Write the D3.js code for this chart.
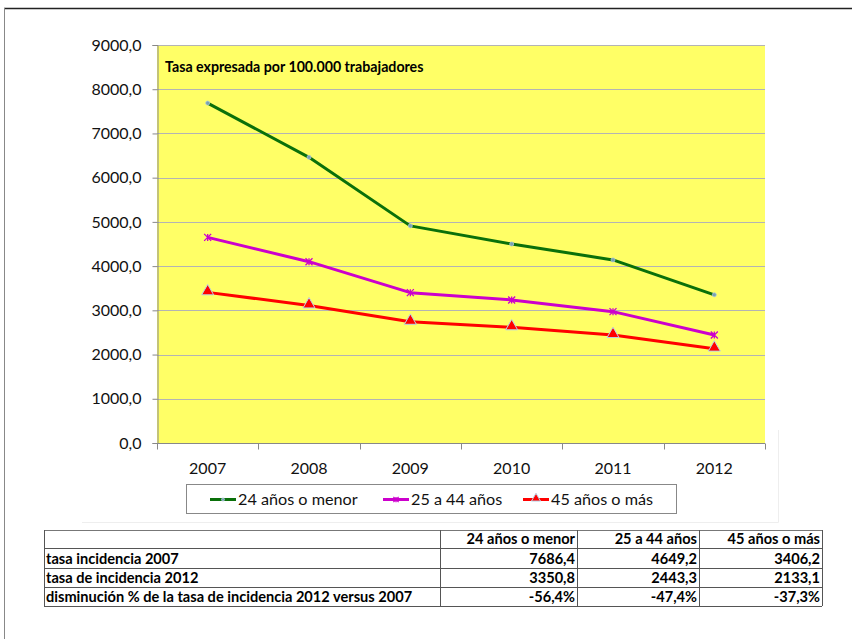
<!DOCTYPE html>
<html>
<head>
<meta charset="utf-8">
<script src="https://cdn.jsdelivr.net/npm/d3@7"></script>
<style>
  body { margin: 0; background: #fff; }
  svg { display: block; font-family: Lato, "Noto Sans", sans-serif; }
</style>
</head>
<body>
<div id="chart"></div>
<script>
// Data
const years = ["2007", "2008", "2009", "2010", "2011", "2012"];
const seriesNames = ["24 años o menor", "25 a 44 años", "45 años o más"];
const menor24 = [7686.4, 6460, 4910, 4500, 4140, 3350.8];
const entre25y44 = [4649.2, 4100, 3400, 3235, 2970, 2443.3];
const mas45 = [3406.2, 3110, 2740, 2615, 2440, 2133.1];
const yTicks = [0, 1000, 2000, 3000, 4000, 5000, 6000, 7000, 8000, 9000];

const tableCols = ["24 años o menor", "25 a 44 años", "45 años o más"];
const tableRows = ["tasa incidencia 2007", "tasa de incidencia 2012", "disminución % de la tasa de incidencia 2012 versus 2007"];
const tableVals = [
  ["7686,4", "4649,2", "3406,2"],
  ["3350,8", "2443,3", "2133,1"],
  ["-56,4%", "-47,4%", "-37,3%"]
];

const width = 852, height = 639;
const plot = { left: 157, right: 765, top: 45, bottom: 443 };

const svg = d3.select("#chart").append("svg")
    .attr("width", width)
    .attr("height", height);

// Outer frame lines
svg.append("line").attr("x1", 4).attr("x2", width).attr("y1", 8.5).attr("y2", 8.5)
    .attr("stroke", "#222").attr("stroke-width", 1.5);
svg.append("line").attr("x1", 4.5).attr("x2", 4.5).attr("y1", 8).attr("y2", height)
    .attr("stroke", "#888").attr("stroke-width", 1);

// faint chart object border
svg.append("path").attr("d", "M778.5,430V522.5H82")
    .attr("fill", "none").attr("stroke", "#eeeeee");

// Scales
const x = d3.scalePoint().domain(years).range([plot.left, plot.right]).padding(0.5);
const y = d3.scaleLinear().domain([0, 9000]).range([plot.bottom, plot.top]);
const step = x.step();

// Plot area
svg.append("rect")
    .attr("x", plot.left).attr("y", plot.top)
    .attr("width", plot.right - plot.left).attr("height", plot.bottom - plot.top)
    .attr("fill", "#ffff66");

// Gridlines
svg.append("g").selectAll("line").data(yTicks.slice(1)).join("line")
    .attr("x1", plot.left).attr("x2", plot.right)
    .attr("y1", d => Math.round(y(d)) + 0.5).attr("y2", d => Math.round(y(d)) + 0.5)
    .attr("stroke", "#b4b4b4").attr("stroke-width", 1);

// Y axis
const fmt = d => d3.format(".1f")(d).replace(".", ",");
const yAxis = svg.append("g")
    .attr("transform", `translate(${plot.left + 0.5},0)`)
    .call(d3.axisLeft(y).tickValues(yTicks).tickFormat(fmt).tickSize(5).tickPadding(11));
yAxis.select(".domain").attr("stroke", "#888");
yAxis.selectAll(".tick line").attr("stroke", "#888");
yAxis.selectAll("text").attr("font-size", 16).attr("fill", "#111")
    .attr("font-family", "Lato, sans-serif");

// X axis
const xAxisG = svg.append("g").attr("transform", `translate(0,${plot.bottom + 0.5})`);
xAxisG.append("line").attr("x1", plot.left).attr("x2", plot.right)
    .attr("stroke", "#888");
xAxisG.selectAll(".xt").data(d3.range(years.length + 1)).join("line")
    .attr("class", "xt")
    .attr("x1", i => Math.round(plot.left + i * step) + 0.5)
    .attr("x2", i => Math.round(plot.left + i * step) + 0.5)
    .attr("y1", 0).attr("y2", 6).attr("stroke", "#888");
xAxisG.selectAll("text").data(years).join("text")
    .attr("x", d => x(d)).attr("y", 30)
    .attr("text-anchor", "middle").attr("font-size", 16).attr("fill", "#111")
    .text(d => d);

// Title inside plot
svg.append("text").attr("x", 165).attr("y", 72)
    .attr("font-size", 14.2).attr("font-weight", "bold").attr("fill", "#000")
    .text("Tasa expresada por 100.000 trabajadores");

// Lines
const series = [
  { name: seriesNames[0], values: menor24, color: "#0a700a", marker: "dot" },
  { name: seriesNames[1], values: entre25y44, color: "#cc00cc", marker: "star" },
  { name: seriesNames[2], values: mas45, color: "#ff0000", marker: "triangle" }
];

const line = d3.line().x((d, i) => x(years[i])).y(d => y(d));

function drawMarker(g, type, color, cx, cy, scale) {
  const s = scale || 1;
  if (type === "dot") {
    g.append("circle").attr("cx", cx).attr("cy", cy).attr("r", 2 * s)
        .attr("fill", "#7aa0b0").attr("stroke", "#a8c8d8").attr("stroke-width", 0.8);
  } else if (type === "star") {
    const r = 3.5 * s;
    g.append("path")
        .attr("d", `M${cx - r},${cy - r}L${cx + r},${cy + r}M${cx - r},${cy + r}L${cx + r},${cy - r}M${cx},${cy - r}L${cx},${cy + r}`)
        .attr("stroke", color).attr("stroke-width", 1.3).attr("fill", "none");
  } else {
    const sym = d3.symbol().type(d3.symbolTriangle).size(62 * s * s);
    g.append("path").attr("d", sym).attr("transform", `translate(${cx},${cy - 1})`)
        .attr("fill", color).attr("stroke", "#b8d4e8").attr("stroke-width", 1);
  }
}

series.forEach(s => {
  svg.append("path").datum(s.values)
      .attr("d", line).attr("fill", "none")
      .attr("stroke", s.color).attr("stroke-width", 3)
      .attr("stroke-linejoin", "round");
});
series.forEach(s => {
  const g = svg.append("g");
  s.values.forEach((v, i) => drawMarker(g, s.marker, s.color, x(years[i]), y(v)));
});

// Legend
const legend = svg.append("g");
legend.append("rect").attr("x", 186.5).attr("y", 484.5).attr("width", 490).attr("height", 29)
    .attr("fill", "#fff").attr("stroke", "#888");
const legendX = [210, 383, 523];
series.forEach((s, i) => {
  const lx = legendX[i];
  legend.append("line").attr("x1", lx).attr("x2", lx + 26).attr("y1", 499.5).attr("y2", 499.5)
      .attr("stroke", s.color).attr("stroke-width", 3);
  drawMarker(legend, s.marker, s.color, lx + 13, 499.5, 0.75);
  legend.append("text").attr("x", lx + 28).attr("y", 505)
      .attr("font-size", 16.2).attr("fill", "#111").text(s.name);
});

// Table
const tbl = svg.append("g").attr("font-weight", "bold").attr("font-size", 14.6).attr("fill", "#000");
const colEdges = [44, 440, 577, 699, 822];
const rowEdges = [530, 548, 568, 587, 606];
const gridColor = "#555";
// horizontal
tbl.selectAll(".hl").data(rowEdges).join("line")
    .attr("x1", colEdges[0]).attr("x2", colEdges[colEdges.length - 1])
    .attr("y1", d => d + 0.5).attr("y2", d => d + 0.5)
    .attr("stroke", d => (d === rowEdges[0] ? "#777" : gridColor)).attr("stroke-width", 1);
// vertical
tbl.selectAll(".vl").data(colEdges).join("line")
    .attr("x1", d => d + 0.5).attr("x2", d => d + 0.5)
    .attr("y1", rowEdges[0]).attr("y2", rowEdges[rowEdges.length - 1])
    .attr("stroke", gridColor).attr("stroke-width", 1);
// header
tableCols.forEach((c, j) => {
  tbl.append("text").attr("x", colEdges[j + 2] - 2).attr("y", rowEdges[1] - 4)
      .attr("text-anchor", "end").text(c);
});
tableRows.forEach((r, i) => {
  tbl.append("text").attr("x", colEdges[0] + 2).attr("y", rowEdges[i + 2] - 4).text(r);
  tableVals[i].forEach((v, j) => {
    tbl.append("text").attr("x", colEdges[j + 2] - 2).attr("y", rowEdges[i + 2] - 4)
        .attr("text-anchor", "end").text(v);
  });
});
</script>
</body>
</html>
